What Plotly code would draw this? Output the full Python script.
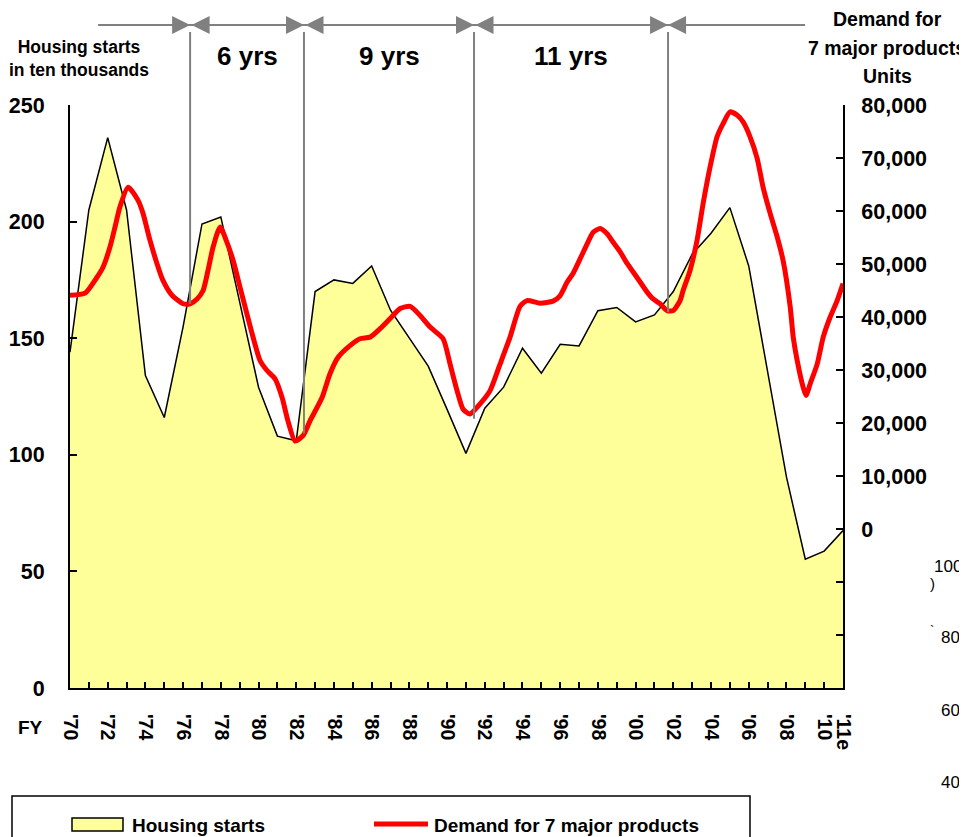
import plotly.graph_objects as go

# ---------------- data ----------------
fiscal_years = list(range(1970, 2012))
housing_starts = [144, 205, 236, 205, 134, 116, 155, 199, 202, 166,
                  129, 108, 106, 170, 175, 173.5, 181, 162, 150, 138,
                  119.5, 100.6, 120, 129, 145.7, 135, 147.4, 146.7, 161.8, 163.2,
                  157, 160, 170, 186, 195, 206, 181, 135, 90.5, 55.2,
                  58.7, 67.5]

demand_t = [1970.0, 1970.8, 1971.43, 1971.75, 1972.12, 1972.39, 1972.65, 1973.08, 1973.61, 1973.87,
            1974.24, 1974.62, 1974.93, 1975.41, 1976.0, 1976.37, 1976.74, 1977.06, 1977.32, 1977.59,
            1977.96, 1978.28, 1978.65, 1979.02, 1979.39, 1980.08, 1980.45, 1980.88, 1981.25, 1981.56,
            1981.94, 1982.36, 1982.73, 1983.37, 1983.79, 1984.22, 1984.85, 1985.38, 1985.92, 1986.45,
            1986.98, 1987.51, 1988.04, 1988.57, 1989.1, 1989.79, 1990.16, 1990.53, 1990.85, 1991.22,
            1991.75, 1992.28, 1992.81, 1993.34, 1993.87, 1994.24, 1994.93, 1995.62, 1995.99, 1996.37,
            1996.68, 1997.06, 1997.43, 1997.75, 1998.12, 1998.49, 1998.81, 1999.18, 1999.55, 1999.87,
            2000.24, 2000.61, 2000.93, 2001.3, 2001.67, 2001.99, 2002.36, 2002.52, 2002.89, 2003.26,
            2003.58, 2003.95, 2004.32, 2004.64, 2005.01, 2005.38, 2005.7, 2006.07, 2006.45, 2006.76,
            2007.14, 2007.51, 2007.82, 2008.2, 2008.36, 2008.57, 2008.89, 2009.04, 2009.26, 2009.63,
            2009.95, 2010.32, 2010.69, 2011.0]
demand_units = [44100, 44500, 47500, 49400, 53200, 57000, 60800, 64500, 62000, 59600,
                54500, 50000, 46900, 44100, 42500, 42500, 43400, 45000, 48800, 53200,
                57000, 54500, 50700, 45600, 40500, 31800, 29900, 28300, 24800, 20400,
                16600, 17600, 20400, 24800, 29300, 32400, 34600, 35900, 36200, 37800,
                39700, 41600, 42000, 40300, 38100, 35900, 31100, 26100, 22600, 21700,
                23600, 26100, 31100, 36200, 42000, 43100, 42600, 43000, 44000, 46600,
                48200, 51000, 53800, 56000, 56700, 55700, 54100, 52300, 50100, 48500,
                46600, 44700, 43400, 42500, 41200, 41200, 43100, 45000, 48800, 54500,
                61400, 68300, 74000, 76500, 78700, 78100, 76800, 74000, 69900, 64500,
                59500, 55100, 50700, 41900, 36200, 31800, 26700, 25200, 27400, 31100,
                36200, 40000, 43100, 46300]

# x tick labels (every fiscal year gets a tick mark, labels every 2 years)
year_labels = ["'70", "", "'72", "", "'74", "", "'76", "", "'78", "",
               "'80", "", "'82", "", "'84", "", "'86", "", "'88", "",
               "'90", "", "'92", "", "'94", "", "'96", "", "'98", "",
               "'00", "", "'02", "", "'04", "", "'06", "", "'08", "",
               "'10", "'11e"]

left_ticks = [0, 50, 100, 150, 200, 250]
right_ticks = [-30000, -20000, -10000, 0, 10000, 20000, 30000, 40000, 50000, 60000, 70000, 80000]

# business-cycle boundaries (fiscal year position) and red-curve level where each marker ends
cycle_bounds = [1976.37, 1982.41, 1991.43, 2001.72]
cycle_bottom = [42500, 18000, 20800, 40900]
cycle_labels = ["6 yrs", "9 yrs", "11 yrs"]
arrow_start, arrow_end = 1971.49, 2008.99

pct_labels = ["100%", "80%", "60%", "40%"]
right_title = ["Demand for", "7 major products", "Units"]

# ---------------- styling ----------------
FONT = "Liberation Sans, Arial, sans-serif"
GRAY = "#808080"
YELLOW = "#FFFF99"
RED = "#FF0000"

L_RANGE = [0, 250]
R_RANGE = [-30000, 80000]

fig = go.Figure()
fig.add_trace(go.Scatter(
    x=fiscal_years, y=housing_starts, name="Housing starts",
    mode="lines", fill="tozeroy", fillcolor=YELLOW,
    line=dict(color="black", width=1.5), yaxis="y", showlegend=False))
fig.add_trace(go.Scatter(
    x=demand_t, y=demand_units, name="Demand for 7 major products",
    mode="lines", line=dict(color=RED, width=5, shape="spline", smoothing=0.6),
    yaxis="y2", showlegend=False))

def r2paper(v):
    return (v - R_RANGE[0]) / (R_RANGE[1] - R_RANGE[0])

# plot area: 773 x 583 px
def px(xp):
    return (xp - 70) / 773
def py(yp):
    return (688 - yp) / 583

TOP_LINE = py(32)
ARROW_Y = py(25)
shapes = []
for xb, yb in zip(cycle_bounds, cycle_bottom):
    shapes.append(dict(type="line", xref="x", yref="paper", x0=xb, x1=xb,
                       y0=r2paper(yb), y1=TOP_LINE, line=dict(color=GRAY, width=2)))
shapes.append(dict(type="line", xref="x", yref="paper", x0=arrow_start, x1=arrow_end,
                   y0=ARROW_Y, y1=ARROW_Y, line=dict(color=GRAY, width=2)))

annotations = []
# arrow heads on top
pts = [arrow_start] + cycle_bounds + [arrow_end]
for i in range(len(pts) - 1):
    a, b = pts[i], pts[i + 1]
    if i == 0:
        head, tail, side = b, a, "end"
    elif i == len(pts) - 2:
        head, tail, side = a, b, "end"
    else:
        head, tail, side = b, a, "end+start"
    annotations.append(dict(x=head, y=ARROW_Y, xref="x", yref="paper",
                            ax=tail, ay=0, axref="x", ayref="pixel",
                            text="", showarrow=True, arrowhead=2, startarrowhead=2,
                            arrowside=side, arrowsize=1.8, startarrowsize=1.8,
                            arrowwidth=2, arrowcolor=GRAY))
for i, lab in enumerate(cycle_labels):
    annotations.append(dict(x=(cycle_bounds[i] + cycle_bounds[i + 1]) / 2, y=py(56),
                            xref="x", yref="paper", xanchor="center", yanchor="middle",
                            text=f"<b>{lab}</b>", showarrow=False,
                            font=dict(size=26, family=FONT, color="black")))

annotations += [
    dict(x=px(79), y=py(59), xref="paper", yref="paper", showarrow=False,
         xanchor="center", yanchor="middle",
         text="<b>Housing starts<br>in ten thousands</b>",
         font=dict(size=17.5, family=FONT, color="black")),
    dict(x=px(45), y=py(727), xref="paper", yref="paper", showarrow=False,
         xanchor="right", yanchor="middle",
         text="<b>FY</b>", font=dict(size=19, family=FONT, color="black")),
]
for lab, yy in zip(right_title, [19, 48, 76]):
    annotations.append(dict(x=px(887), y=py(yy), xref="paper", yref="paper", showarrow=False,
                            xanchor="center", yanchor="middle", text=f"<b>{lab}</b>",
                            font=dict(size=19.5, family=FONT, color="black")))
for lab, yy in zip(pct_labels, [566, 637, 710, 782]):
    annotations.append(dict(x=px(932 if lab == "100%" else 939), y=py(yy), xref="paper", yref="paper",
                            xanchor="left", yanchor="middle", showarrow=False, text=lab,
                            font=dict(size=17, family=FONT, color="black")))
annotations.append(dict(x=px(928), y=py(583), xref="paper", yref="paper", xanchor="left",
                        yanchor="middle", showarrow=False, text=")",
                        font=dict(size=15, family=FONT, color="black")))
annotations.append(dict(x=px(928), y=py(630), xref="paper", yref="paper", xanchor="left",
                        yanchor="middle", showarrow=False, text="`",
                        font=dict(size=13, family=FONT, color="black")))

# manual legend
shapes += [
    dict(type="rect", xref="paper", yref="paper", x0=px(12), x1=px(750), y0=py(860), y1=py(796),
         line=dict(color="black", width=1.5), fillcolor="rgba(0,0,0,0)"),
    dict(type="rect", xref="paper", yref="paper", x0=px(72), x1=px(123), y0=py(831), y1=py(818),
         line=dict(color="black", width=1.5), fillcolor=YELLOW),
    dict(type="line", xref="paper", yref="paper", x0=px(374), x1=px(428), y0=py(824), y1=py(824),
         line=dict(color=RED, width=5)),
]
annotations += [
    dict(x=px(130), y=py(825), xref="paper", yref="paper", xanchor="left", yanchor="middle",
         showarrow=False, text="<b>Housing starts</b>",
         font=dict(size=19, family=FONT, color="black")),
    dict(x=px(432), y=py(825), xref="paper", yref="paper", xanchor="left", yanchor="middle",
         showarrow=False, text="<b>Demand for 7 major products</b>",
         font=dict(size=19, family=FONT, color="black")),
]

# the page adds an 8px body margin, so the figure is 8px smaller with left/top margins reduced
fig.update_layout(
    width=959, height=829,
    margin=dict(l=62, r=124, t=97, b=149, autoexpand=False),
    paper_bgcolor="white", plot_bgcolor="white",
    font=dict(family=FONT, color="black"),
    showlegend=False,
    xaxis=dict(range=[1970, 2011], tickmode="array", tickvals=fiscal_years,
               ticktext=[f"<b>{t}</b>" if t else "" for t in year_labels],
               tickangle=90, ticks="inside", ticklen=6, tickwidth=1.5, tickcolor="black",
               showline=True, linecolor="black", linewidth=2, showgrid=False, zeroline=False,
               tickfont=dict(size=19.5, family=FONT), ticklabelstandoff=20),
    yaxis=dict(range=L_RANGE, tickmode="array", tickvals=left_ticks,
               ticktext=[f"<b>{v}</b>" for v in left_ticks],
               ticks="inside", ticklen=7, tickwidth=1.5, tickcolor="black",
               showline=True, linecolor="black", linewidth=2, showgrid=False, zeroline=False,
               tickfont=dict(size=21.5, family=FONT), ticklabelstandoff=19),
    yaxis2=dict(range=R_RANGE, overlaying="y", side="right", tickmode="array",
                tickvals=right_ticks,
                ticktext=[f"<b>{v:,}</b>" if v >= 0 else "" for v in right_ticks],
                ticks="inside", ticklen=7, tickwidth=1.5, tickcolor="black",
                showline=True, linecolor="black", linewidth=2, showgrid=False, zeroline=False,
                tickfont=dict(size=21.5, family=FONT), ticklabelstandoff=12),
    shapes=shapes, annotations=annotations,
)

fig.write_html("out.html")
